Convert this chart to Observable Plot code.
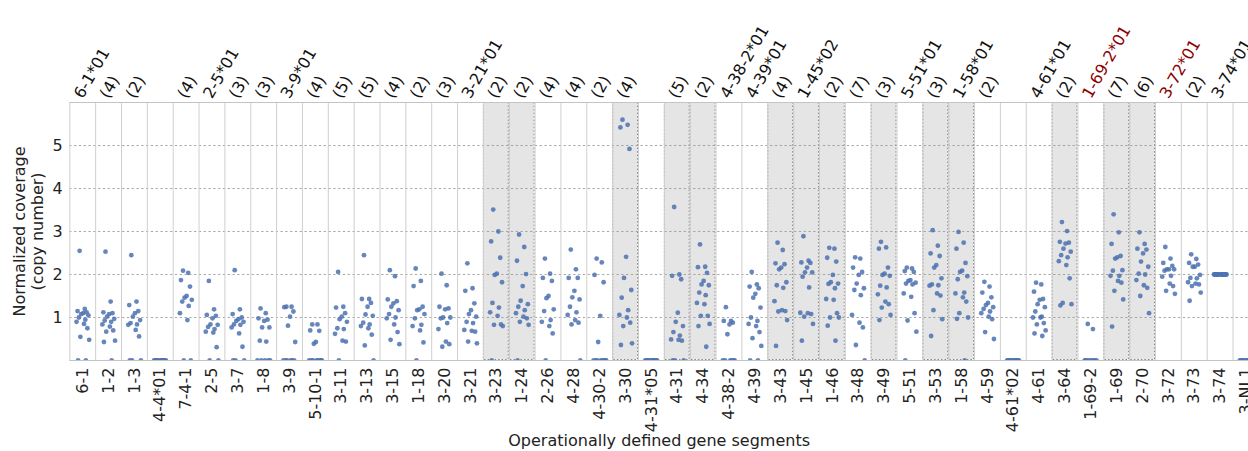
<!DOCTYPE html>
<html>
<head>
<meta charset="utf-8">
<script src="https://cdn.jsdelivr.net/npm/d3@7"></script>
<script src="https://cdn.jsdelivr.net/npm/@observablehq/plot@0.6"></script>
<style>
  html, body { margin: 0; padding: 0; background: #fff; }
  #chart svg { display: block; }
</style>
</head>
<body>
<div id="chart"></div>
<script>
// Operationally defined gene segments, left to right
const segments = [
  "6-1", "1-2", "1-3", "4-4*01", "7-4-1", "2-5", "3-7", "1-8", "3-9", "5-10-1",
  "3-11", "3-13", "3-15", "1-18", "3-20", "3-21", "3-23", "1-24", "2-26", "4-28",
  "4-30-2", "3-30", "4-31*05", "4-31", "4-34", "4-38-2", "4-39", "3-43", "1-45", "1-46",
  "3-48", "3-49", "5-51", "3-53", "1-58", "4-59", "4-61*02", "4-61", "3-64", "1-69-2",
  "1-69", "2-70", "3-72", "3-73", "3-74", "3-NL1"
];

// Annotation above each segment: allele name or number of alleles
const topLabels = [
  "6-1*01", "(4)", "(2)", "", "(4)", "2-5*01", "(3)", "(3)", "3-9*01", "(4)",
  "(5)", "(5)", "(4)", "(2)", "(3)", "3-21*01", "(2)", "(2)", "(4)", "(4)",
  "(2)", "(4)", "", "(5)", "(2)", "4-38-2*01", "4-39*01", "(4)", "1-45*02", "(2)",
  "(7)", "(3)", "5-51*01", "(3)", "1-58*01", "(2)", "", "4-61*01", "(2)", "1-69-2*01",
  "(7)", "(6)", "3-72*01", "(2)", "3-74*01", ""
];

// Annotations written in red
const redLabels = ["1-69-2*01", "3-72*01"];

// Segments highlighted with a grey band
const shaded = [
  "3-23", "1-24", "3-30", "4-31", "4-34", "3-43", "1-45", "1-46",
  "3-49", "3-53", "1-58", "3-64", "1-69", "2-70"
];

// Normalized coverage (copy number) per individual, one list per segment
const coverage = [
  [2.55, 1.2, 1.15, 1.12, 1.1, 1.08, 1.05, 1.0, 0.95, 0.9, 0.85, 0.75, 0.55, 0.48, 0, 0],
  [2.53, 1.37, 1.12, 1.1, 1.08, 1.02, 0.97, 0.93, 0.9, 0.84, 0.79, 0.7, 0.67, 0.46, 0.43, 0],
  [2.45, 1.37, 1.29, 1.15, 1.1, 1.02, 0.94, 0.87, 0.84, 0.83, 0.71, 0.56, 0, 0, 0],
  [0, 0, 0, 0, 0, 0, 0, 0, 0, 0, 0, 0],
  [2.09, 2.04, 1.87, 1.72, 1.5, 1.46, 1.41, 1.37, 1.27, 1.1, 0.94, 0, 0],
  [1.85, 1.19, 1.06, 1.04, 0.98, 0.84, 0.83, 0.78, 0.73, 0.67, 0.65, 0.31, 0, 0],
  [2.1, 1.19, 1.08, 1.0, 0.96, 0.92, 0.9, 0.84, 0.83, 0.77, 0.63, 0.32, 0, 0, 0],
  [1.21, 1.1, 0.98, 0.95, 0.92, 0.77, 0.77, 0.46, 0.44, 0, 0, 0, 0, 0],
  [1.25, 1.25, 1.24, 1.14, 1.02, 0.81, 0.43, 0, 0, 0, 0, 0, 0],
  [0.84, 0.84, 0.7, 0.69, 0.43, 0.39, 0, 0, 0, 0, 0, 0, 0, 0],
  [2.06, 1.25, 1.23, 1.1, 1.02, 0.96, 0.9, 0.75, 0.73, 0.62, 0.46, 0.44, 0],
  [2.45, 1.43, 1.43, 1.34, 1.25, 1.07, 1.04, 0.88, 0.84, 0.8, 0.75, 0.6, 0.35, 0],
  [2.1, 1.96, 1.42, 1.38, 1.33, 1.25, 1.17, 1.08, 1.0, 0.98, 0.84, 0.66, 0.48, 0.38],
  [2.14, 1.85, 1.73, 1.25, 1.19, 1.17, 1.08, 0.98, 0.83, 0.8, 0.7, 0.42, 0],
  [2.02, 1.75, 1.25, 1.21, 1.19, 1.0, 1.0, 0.98, 0.87, 0.73, 0.44, 0.38, 0.32],
  [2.26, 1.68, 1.62, 1.33, 1.17, 1.08, 1.02, 0.9, 0.87, 0.71, 0.69, 0.67, 0.44, 0.4],
  [3.51, 3.0, 2.77, 2.39, 2.02, 1.99, 1.82, 1.34, 1.23, 1.12, 1.04, 0.84, 0.83, 0.8, 0],
  [2.93, 2.64, 2.32, 2.01, 1.73, 1.39, 1.31, 1.25, 1.17, 1.1, 1.02, 0.98, 0.9, 0.83, 0],
  [2.37, 2.02, 1.92, 1.85, 1.5, 1.45, 1.19, 1.15, 0.94, 0.9, 0.8, 0.63, 0],
  [2.58, 2.12, 1.92, 1.92, 1.62, 1.47, 1.42, 1.25, 1.12, 1.06, 0.94, 0.88, 0.84, 0],
  [2.37, 2.28, 1.99, 1.82, 1.04, 0.43, 0, 0, 0, 0, 0, 0, 0, 0],
  [5.6, 5.48, 5.42, 4.92, 2.41, 1.92, 1.64, 1.46, 1.17, 1.06, 1.0, 0.88, 0.8, 0.4, 0.36],
  [0, 0, 0, 0, 0, 0, 0, 0, 0, 0, 0, 0],
  [3.57, 2.0, 1.97, 1.89, 1.11, 0.9, 0.8, 0.66, 0.58, 0.49, 0.48, 0.46, 0, 0, 0],
  [2.7, 2.18, 2.17, 2.04, 1.85, 1.77, 1.75, 1.58, 1.52, 1.34, 1.31, 1.04, 1.04, 0.85, 0.8, 0.32],
  [1.24, 0.92, 0.92, 0.88, 0.84, 0.61, 0, 0, 0, 0, 0, 0],
  [2.06, 1.77, 1.72, 1.68, 1.55, 1.46, 1.23, 1.0, 0.92, 0.85, 0.8, 0.66, 0.52, 0.34, 0, 0],
  [2.74, 2.57, 2.26, 2.24, 2.16, 2.12, 1.82, 1.75, 1.69, 1.38, 1.17, 1.15, 1.14, 0.94, 0.34],
  [2.89, 2.32, 2.28, 2.27, 2.16, 2.05, 2.05, 1.95, 1.7, 1.11, 1.1, 1.08, 1.02, 0.85, 0.46],
  [2.62, 2.6, 2.39, 2.3, 1.99, 1.82, 1.79, 1.78, 1.68, 1.43, 1.41, 1.1, 1.0, 1.0, 0.81, 0.46],
  [2.4, 2.37, 2.16, 2.06, 1.99, 1.79, 1.68, 1.64, 1.52, 1.06, 0.88, 0.77, 0.36, 0],
  [2.76, 2.63, 2.6, 2.16, 2.02, 1.99, 1.97, 1.74, 1.7, 1.54, 1.37, 1.31, 1.23, 1.06, 0.94],
  [2.16, 2.14, 2.08, 2.06, 1.87, 1.85, 1.81, 1.79, 1.77, 1.56, 1.48, 1.1, 0.93, 0.67, 0],
  [3.03, 2.67, 2.49, 2.43, 2.22, 2.16, 1.91, 1.77, 1.75, 1.74, 1.56, 1.51, 1.17, 0.96, 0.57],
  [2.99, 2.74, 2.6, 2.27, 2.09, 2.06, 1.96, 1.89, 1.58, 1.56, 1.47, 1.37, 1.1, 1.0, 0.97, 0],
  [1.83, 1.72, 1.58, 1.47, 1.34, 1.29, 1.24, 1.2, 1.14, 1.1, 1.02, 0.96, 0.66, 0.5],
  [0, 0, 0, 0, 0, 0, 0, 0, 0, 0, 0, 0],
  [1.81, 1.77, 1.6, 1.43, 1.41, 1.31, 1.24, 1.14, 1.02, 1.0, 1.0, 0.87, 0.84, 0.7, 0.63, 0.57],
  [3.22, 3.01, 2.76, 2.74, 2.72, 2.6, 2.53, 2.45, 2.4, 2.31, 2.22, 1.91, 1.34, 1.31, 1.28],
  [0.85, 0.73, 0, 0, 0, 0, 0, 0, 0, 0],
  [3.4, 2.98, 2.71, 2.43, 2.4, 2.37, 2.1, 2.09, 1.97, 1.97, 1.85, 1.81, 1.62, 1.42, 0.79],
  [2.98, 2.71, 2.6, 2.58, 2.49, 2.3, 2.18, 2.02, 2.0, 1.87, 1.75, 1.69, 1.5, 1.1],
  [2.64, 2.37, 2.27, 2.2, 2.12, 2.12, 2.12, 2.09, 1.97, 1.95, 1.79, 1.73, 1.62, 1.55],
  [2.47, 2.36, 2.27, 2.23, 2.18, 2.18, 1.99, 1.92, 1.91, 1.82, 1.79, 1.77, 1.73, 1.58, 1.39],
  [2.0, 2.0, 2.0, 2.0, 2.0, 2.0, 2.0, 2.0, 2.0, 2.0, 2.0, 2.0, 2.0, 2.0, 2.0],
  [0, 0, 0, 0, 0, 0, 0, 0, 0, 0, 0, 0]
];

// Horizontal strip offsets (fraction of a column) so points do not overlap
const stripOffsets = [-0.12, 0.08, -0.2, 0.15, 0.02, -0.06, 0.22, -0.15, 0.1,
                      -0.24, 0.05, 0.18, -0.09, 0.25, -0.18, 0.12, -0.02, 0.2, -0.22];

const points = coverage.flatMap((vals, i) =>
  vals.map((v, k) => ({i, v, x: i + stripOffsets[k % stripOffsets.length]})));

const annotations = topLabels
  .map((label, i) => ({i, label}))
  .filter(d => d.label !== "");

const bands = shaded.map(s => segments.indexOf(s));
const columns = d3.range(segments.length);

const font = "'DejaVu Sans', 'Liberation Sans', sans-serif";

const chart = Plot.plot({
  width: 1248,
  height: 451,
  marginLeft: 69.3,
  marginRight: 0,
  marginTop: 102,
  marginBottom: 91,
  style: {fontFamily: font, fontSize: "16px", color: "#222", background: "#fff"},
  x: {type: "linear", domain: [-0.5, segments.length - 0.5], range: [69.3, 69.3 + 25.85 * segments.length]},
  y: {domain: [0, 6]},
  marks: [
    // highlighted segments
    Plot.rectY(bands, {
      x1: d => d - 0.5, x2: d => d + 0.5, y1: 0, y2: 6,
      fill: "#e5e5e5", stroke: "#7a7a7a", strokeWidth: 0.9, strokeDasharray: "1.5,2", inset: 0.5
    }),
    // dotted horizontal grid
    Plot.gridY([1, 2, 3, 4, 5], {stroke: "#9a9a9a", strokeOpacity: 1, strokeWidth: 0.9, strokeDasharray: "2.2,2.6"}),
    // column separators and frame
    Plot.ruleX(d3.range(-0.5, segments.length), {stroke: "#cfcfcf", strokeWidth: 1}),
    Plot.ruleY([0, 6], {stroke: "#c4c4c4", strokeWidth: 1}),
    // individual coverage values
    Plot.dot(points, {
      x: "x", y: "v", r: 2.4, fill: "#4c72b0", fillOpacity: 0.85, stroke: "none", clip: true
    }),
    // axes
    Plot.axisY({ticks: [1, 2, 3, 4, 5], tickFormat: "d", tickSize: 0, tickPadding: 7, label: null, fill: "#222"}),
    Plot.axisX({
      ticks: columns, tickFormat: i => segments[i], tickRotate: -90,
      tickSize: 0, tickPadding: 7, label: null, fill: "#222"
    }),
    // annotations above columns
    Plot.text(annotations, {
      x: "i", y: 6, text: "label", rotate: -60, textAnchor: "start", lineAnchor: "bottom",
      dy: -3, fill: d => redLabels.includes(d.label) ? "#8b0000" : "#111"
    }),
    // axis titles
    Plot.text(["Normalized coverage\n(copy number)"], {
      frameAnchor: "left", rotate: -90, textAnchor: "middle", lineAnchor: "middle", lineHeight: 1.15,
      dx: -41.5, fill: "#222"
    }),
    Plot.text(["Operationally defined gene segments"], {
      frameAnchor: "bottom", lineAnchor: "middle", dy: 80, fill: "#222"
    })
  ]
});

document.getElementById("chart").append(chart);
</script>
</body>
</html>
